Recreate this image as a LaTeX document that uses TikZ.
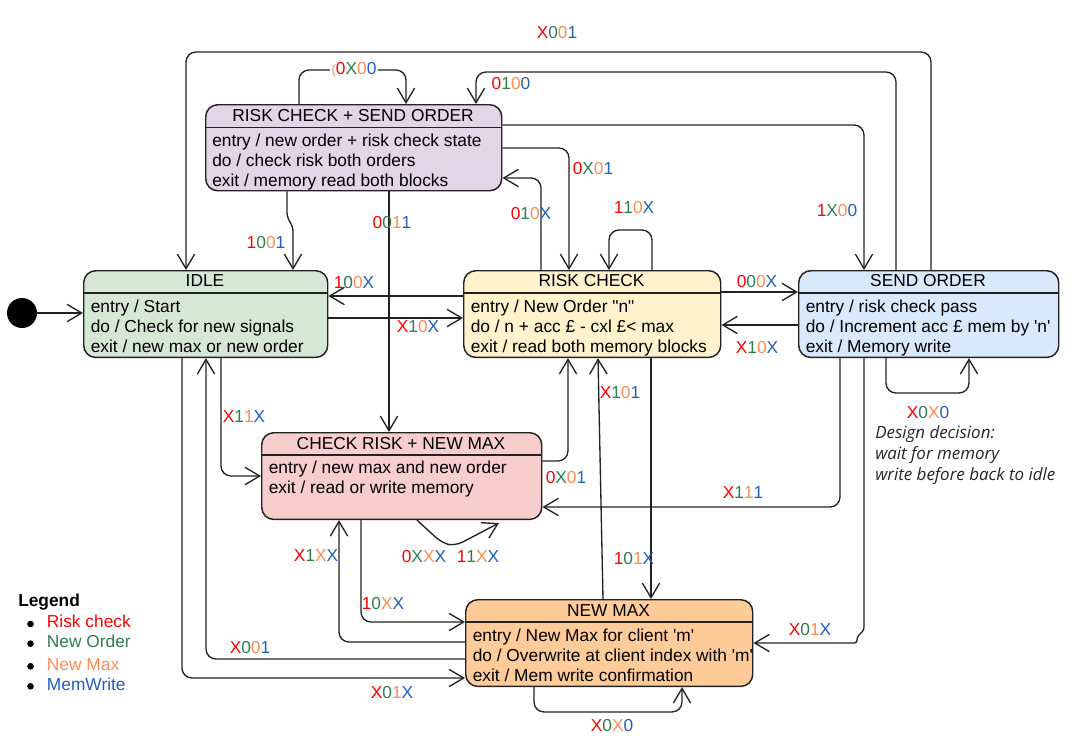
\documentclass[tikz,border=0pt]{standalone}
\usepackage{fontspec}
\setmainfont{Liberation Sans}
\newfontfamily\notefont{Open Sans}
\usetikzlibrary{arrows.meta}
\definecolor{cR}{HTML}{FF0000}
\definecolor{cG}{HTML}{2E7D4F}
\definecolor{cO}{HTML}{FF8C50}
\definecolor{cB}{HTML}{1F5FBF}
\definecolor{fPur}{HTML}{E1D5E7}
\definecolor{fGrn}{HTML}{D5E8D4}
\definecolor{fYel}{HTML}{FFF2CC}
\definecolor{fBlu}{HTML}{DAE8FC}
\definecolor{fRed}{HTML}{F8CECC}
\definecolor{fOrg}{HTML}{FFCC99}
\definecolor{edge}{HTML}{222222}
\newcommand\cbits[4]{\textcolor{cR}{#1}\textcolor{cG}{#2}\textcolor{cO}{#3}\textcolor{cB}{#4}}
\begin{document}
\begin{tikzpicture}[x=0.75pt,y=-0.75pt,font=\fontsize{13}{15.6}\selectfont,
  sbox/.style={draw=edge,line width=1.1pt,rounded corners=9pt,anchor=north west,inner sep=0pt,minimum height=65pt},
  hdr/.style={draw=edge,line width=1.1pt},
  ttl/.style={inner sep=0pt,anchor=center},
  bline/.style={inner sep=0pt,anchor=base west},
  conn/.style={draw=edge,line width=1pt,rounded corners=7.5pt,-{Straight Barb[length=11pt,width=13pt,line width=1pt]}},
  lbl/.style={inner sep=1pt,anchor=center},
  note/.style={inner sep=0pt,anchor=base west,font=\fontsize{12.7}{15}\notefont\itshape,text=black!85},
  leg/.style={inner sep=0pt,anchor=base west},
  bul/.style={circle,fill=black,inner sep=0pt,minimum size=5pt}]
\useasboundingbox (0,0) rectangle (1086,743);

% ---------- states ----------
\node[sbox,fill=fPur,minimum width=222pt,minimum height=64.5pt] (rcso) at (205,104) {};
\draw[hdr] (rcso.west |- 0,127.5) -- (rcso.east |- 0,127.5);
\node[ttl] (rcsoT) at (353,115.5) {RISK CHECK + SEND ORDER};
\node[bline] (rcso1) at (212,146) {entry / new order + risk check state};
\node[bline] (rcso2) at (212,166.3) {do / check risk both orders};
\node[bline] (rcso3) at (212,186.6) {exit / memory read both blocks};

\node[sbox,fill=fGrn,minimum width=183pt] (idle) at (83,270) {};
\draw[hdr] (idle.west |- 0,293) -- (idle.east |- 0,293);
\node[ttl] (idleT) at (205,281) {IDLE};
\node[bline] (idle1) at (90.5,312) {entry / Start};
\node[bline] (idle2) at (90.5,332.3) {do / Check for new signals};
\node[bline] (idle3) at (90.5,352.6) {exit / new max or new order};

\node[sbox,fill=fYel,minimum width=192.75pt] (rc) at (463,270) {};
\draw[hdr] (rc.west |- 0,293) -- (rc.east |- 0,293);
\node[ttl] (rcT) at (591.5,281) {RISK CHECK};
\node[bline] (rc1) at (470.5,312) {entry / New Order \textquotedbl n\textquotedbl};
\node[bline] (rc2) at (470.5,332.3) {do / n + acc £ - cxl £< max};
\node[bline] (rc3) at (470.5,352.6) {exit / read both memory blocks};

\node[sbox,fill=fBlu,minimum width=195pt] (so) at (798,270) {};
\draw[hdr] (so.west |- 0,293) -- (so.east |- 0,293);
\node[ttl] (soT) at (928,281) {SEND ORDER};
\node[bline] (so1) at (805.5,312) {entry / risk check pass};
\node[bline] (so2) at (805.5,332.3) {do / Increment acc £ mem by \textquotesingle n\textquotesingle};
\node[bline] (so3) at (805.5,352.6) {exit / Memory write};

\node[sbox,fill=fRed,minimum width=210pt] (crnm) at (261,432) {};
\draw[hdr] (crnm.west |- 0,455) -- (crnm.east |- 0,455);
\node[ttl] (crnmT) at (401,443.5) {CHECK RISK + NEW MAX};
\node[bline] (crnm1) at (268.5,473.5) {entry / new max and new order};
\node[bline] (crnm2) at (268.5,493.8) {exit / read or write memory};

\node[sbox,fill=fOrg,minimum width=215.25pt] (nm) at (465,599) {};
\draw[hdr] (nm.west |- 0,622) -- (nm.east |- 0,622);
\node[ttl] (nmT) at (608.5,610.5) {NEW MAX};
\node[bline] (nm1) at (472.5,641) {entry / New Max for client \textquotesingle m\textquotesingle};
\node[bline] (nm2) at (472.5,661.3) {do / Overwrite at client index with \textquotesingle m\textquotesingle};
\node[bline] (nm3) at (472.5,681.6) {exit / Mem write confirmation};

% ---------- initial ----------
\node[circle,fill=black,minimum size=22.5pt,inner sep=0pt] (init) at (22,313) {};
\draw[conn] (init) -- (idle.west |- init);

% ---------- connectors ----------
\draw[conn] (rcso.north -| 299,0) -- (299,70) -- (406,70) -- (rcso.north -| 406,0);
\draw[conn] (so.north -| 931,0) -- (931,52) -- (186,52) -- (idle.north -| 186,0);
\draw[conn] (so.north -| 896,0) -- (896,72) -- (476,72) -- (rcso.north -| 476,0);
\draw[conn] (rcso.east |- 0,125) -- (864,125) -- (so.north -| 864,0);
\draw[conn] (rcso.east |- 0,148) -- (569,148) -- (rc.north -| 569,0);
\draw[conn] (rc.north -| 541,0) -- (541,178) -- (rcso.east |- 0,178);
\draw[conn] (rc.north -| 652,0) -- (652,230) -- (609,230) -- (rc.north -| 609,0);
\draw[conn,rounded corners=4pt] (rcso.south -| 287,0) -- (287,218) -- (293,226) -- (idle.north -| 293,0);
\draw[conn] (rcso.south -| 389,0) -- (crnm.north -| 389,0);
\draw[conn] (rc.west |- 0,296) -- (idle.east |- 0,296);
\draw[conn] (idle.east |- 0,318) -- (rc.west |- 0,318);
\draw[conn] (rc.east |- 0,292) -- (so.west |- 0,292);
\draw[conn] (so.west |- 0,325) -- (rc.east |- 0,325);
\draw[conn] (so.south -| 886,0) -- (886,393) -- (969,393) -- (so.south -| 969,0);
\draw[conn] (idle.south -| 221,0) -- (221,476) -- (crnm.west |- 0,476);
\draw[conn] (nm.west |- 0,659) -- (206,659) -- (idle.south -| 206,0);
\draw[conn] (idle.south -| 182,0) -- (182,678) -- (nm.west |- 0,678);
\draw[conn] (nm.west |- 0,642) -- (339,642) -- (crnm.south -| 339,0);
\draw[conn] (crnm.south -| 361,0) -- (361,622) -- (nm.west |- 0,622);
\coordinate (crl) at (499,523);
\draw[conn,rounded corners=6pt] (crnm.south -| 417,0) -- (442,543) -- (455,546) -- (crl);
\draw[conn] (crnm.east |- 0,461) -- (568,461) -- (rc.south -| 568,0);
\draw[conn] (so.south -| 840,0) -- (840,507) -- (crnm.east |- 0,507);
\draw[conn,rounded corners=2pt] (so.south -| 864,0) -- (864,630) -- (857,637) -- (857,643) -- (nm.east |- 0,643);
\draw[conn] (nm.north -| 603,0) -- (rc.south -| 598,0);
\draw[conn] (rc.south -| 651,0) -- (nm.north -| 651,0);
\draw[conn] (nm.south -| 534,0) -- (534,712) -- (682,712) -- (nm.south -| 682,0);

% ---------- labels ----------
\node[lbl,fill=white] (l1) at (354,70) {\textcolor{cO}{\fontsize{10}{12}\selectfont(}\cbits{0}{X}{0}{0}};
\node[lbl] (l2) at (557,33) {\cbits{X}{0}{0}{1}};
\node[lbl] (l3) at (511,84) {\cbits{0}{1}{0}{0}};
\node[lbl] (l4) at (593,169) {\cbits{0}{X}{0}{1}};
\node[lbl] (l5) at (531,214) {\cbits{0}{1}{0}{X}};
\node[lbl] (l6) at (634,208) {\cbits{1}{1}{0}{X}};
\node[lbl] (l7) at (837,211) {\cbits{1}{X}{0}{0}};
\node[lbl] (l8) at (266,243) {\cbits{1}{0}{0}{1}};
\node[lbl] (l9) at (392,223) {\cbits{0}{0}{1}{1}};
\node[lbl] (l10) at (354,283) {\cbits{1}{0}{0}{X}};
\node[lbl] (l11) at (418,327) {\cbits{X}{1}{0}{X}};
\node[lbl] (l12) at (757,282) {\cbits{0}{0}{0}{X}};
\node[lbl] (l13) at (757,348) {\cbits{X}{1}{0}{X}};
\node[lbl] (l14) at (928,413) {\cbits{X}{0}{X}{0}};
\node[lbl] (l15) at (244,417) {\cbits{X}{1}{1}{X}};
\node[lbl] (l16) at (620,393) {\cbits{X}{1}{0}{1}};
\node[lbl] (l17) at (566,478) {\cbits{0}{X}{0}{1}};
\node[lbl] (l18) at (743,493) {\cbits{X}{1}{1}{1}};
\node[lbl] (l19) at (316,556) {\cbits{X}{1}{X}{X}};
\node[lbl] (l20) at (424,557) {\cbits{0}{X}{X}{X}};
\node[lbl] (l21) at (478,557) {\cbits{1}{1}{X}{X}};
\node[lbl] (l22) at (634,559) {\cbits{1}{0}{1}{X}};
\node[lbl] (l23) at (383,604) {\cbits{1}{0}{X}{X}};
\node[lbl] (l24) at (810,630) {\cbits{X}{0}{1}{X}};
\node[lbl] (l25) at (250,648) {\cbits{X}{0}{0}{1}};
\node[lbl] (l26) at (392,693) {\cbits{X}{0}{1}{X}};
\node[lbl] (l27) at (612,726) {\cbits{X}{0}{X}{0}};

% ---------- note ----------
\node[note] (n1) at (875,438) {Design decision:};
\node[note] (n2) at (875,459) {wait for memory};
\node[note] (n3) at (875,480) {write before back to idle};

% ---------- legend ----------
\node[leg,font=\fontsize{13}{15.6}\selectfont\bfseries] (lg0) at (18,606.7) {Legend};
\node[bul] (b1) at (30.5,624) {};
\node[bul] (b2) at (30.5,643.7) {};
\node[bul] (b3) at (30.5,666.3) {};
\node[bul] (b4) at (30.5,686.3) {};
\node[leg,text=cR] (lg1) at (46.7,627.7) {Risk check};
\node[leg,text=cG] (lg2) at (46.7,647.3) {New Order};
\node[leg,text=cO] (lg3) at (46.7,670) {New Max};
\node[leg,text=cB] (lg4) at (46.7,690) {MemWrite};
\end{tikzpicture}
\end{document}
